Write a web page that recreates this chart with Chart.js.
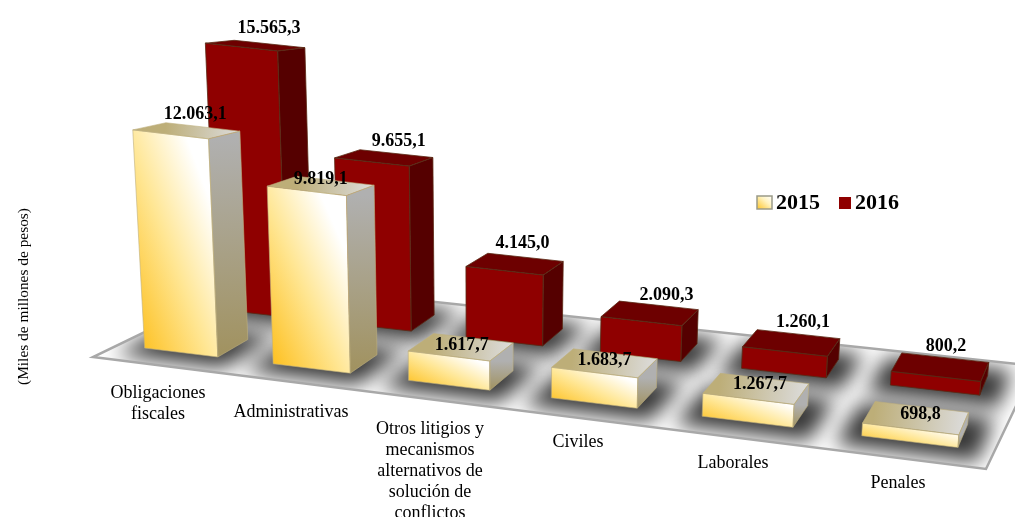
<!DOCTYPE html>
<html lang="es">
<head>
<meta charset="utf-8">
<title>Litigios 2015-2016</title>
<script src="https://cdn.jsdelivr.net/npm/chart.js@4"></script>
<style>
    html, body { margin: 0; padding: 0; background: #fff; }
    canvas { display: block; }
</style>
</head>
<body>
<canvas id="chart" width="1015" height="517"></canvas>
<script>
// Data
const categories = [
    ['Obligaciones', 'fiscales'],
    ['Administrativas'],
    ['Otros litigios y', 'mecanismos', 'alternativos de', 'solución de', 'conflictos'],
    ['Civiles'],
    ['Laborales'],
    ['Penales']
];
const values2015 = [12063.1, 9819.1, 1617.7, 1683.7, 1267.7, 698.8];
const values2016 = [15565.3, 9655.1, 4145.0, 2090.3, 1260.1, 800.2];

// Floor corners in screen pixels: front left, front right, back right, back left
const floorA = [93, 357], floorB = [986, 469], floorC = [1035, 366], floorD = [248, 282];

// Where the text sits, the original was placed by hand
const catPos = [[158, 393], [291, 412], [430, 429], [578, 442], [733, 463], [898, 483]];
const labelShift = [
    [[9, -16], [0, -6], [1, -2], [0, -3], [4, -4], [5, -3]],
    [[14, -17], [15, -16], [8, -21], [17, -18], [12, -20], [6, -21]]
];

const SERIF = '"Liberation Serif", "Times New Roman", serif';

// Homography of the unit square onto the floor
const dx1 = floorB[0] - floorC[0], dx2 = floorD[0] - floorC[0];
const dx3 = floorA[0] - floorB[0] + floorC[0] - floorD[0];
const dy1 = floorB[1] - floorC[1], dy2 = floorD[1] - floorC[1];
const dy3 = floorA[1] - floorB[1] + floorC[1] - floorD[1];
const den = dx1 * dy2 - dx2 * dy1;
const hg = (dx3 * dy2 - dx2 * dy3) / den;
const hh = (dx1 * dy3 - dx3 * dy1) / den;
const ha = floorB[0] - floorA[0] + hg * floorB[0];
const hb = floorD[0] - floorA[0] + hh * floorD[0];
const hd = floorB[1] - floorA[1] + hg * floorB[1];
const he = floorD[1] - floorA[1] + hh * floorD[1];

function floorPoint(u, v) {
    const w = hg * u + hh * v + 1;
    return [(ha * u + hb * v + floorA[0]) / w, (hd * u + he * v + floorA[1]) / w];
}

// Footprint corner of a bar, slightly sheared towards the back
function basePoint(u, v) {
    const p = floorPoint(u, v);
    return [p[0] - 12 * (v - 0.145), p[1]];
}

// Lift a base point by a height, verticals lean towards a vanishing point below
function lift(p, h) {
    return [p[0] + (p[0] - 484) * h * 0.00016, p[1] - h];
}

function polygon(ctx, pts) {
    ctx.beginPath();
    pts.forEach((p, i) => i ? ctx.lineTo(p[0], p[1]) : ctx.moveTo(p[0], p[1]));
    ctx.closePath();
}

// Gradient corner to corner of the bounding box, like an Office fill
function fillDiagonal(ctx, pts, stops) {
    const xs = pts.map(p => p[0]), ys = pts.map(p => p[1]);
    const minX = Math.min(...xs), minY = Math.min(...ys);
    ctx.save();
    polygon(ctx, pts);
    ctx.clip();
    ctx.translate(minX, minY);
    ctx.scale(Math.max(...xs) - minX, Math.max(...ys) - minY);
    const g = ctx.createLinearGradient(0, 1, 1, 0);
    stops.forEach(s => g.addColorStop(s[0], s[1]));
    ctx.fillStyle = g;
    ctx.fillRect(0, 0, 1, 1);
    ctx.restore();
}

function fillAlong(ctx, pts, from, to, stops) {
    const g = ctx.createLinearGradient(from[0], from[1], to[0], to[1]);
    stops.forEach(s => g.addColorStop(s[0], s[1]));
    polygon(ctx, pts);
    ctx.fillStyle = g;
    ctx.fill();
}

// Corners of one bar, everything comes from the bar element of Chart.js
function barBox(chart, datasetIndex, el) {
    const area = chart.chartArea;
    const uc = (el.x - area.left) / area.width;
    const du = el.width / area.width / 2;
    const row = (datasetIndex + 0.5) / 2;
    const rowScale = datasetIndex === 0 ? 1 : 0.945;
    const h = (el.base - el.y) * rowScale;
    const fl = basePoint(uc - du, row - 0.105);
    const fr = basePoint(uc + du, row - 0.105);
    const br = basePoint(uc + du, row + 0.105);
    const bl = basePoint(uc - du, row + 0.105);
    return {
        fl, fr, br, bl,
        uc, du, row,
        tfl: lift(fl, h), tfr: lift(fr, h),
        tbr: lift(br, h * 0.955), tbl: lift(bl, h * 0.955)
    };
}

function drawBar(ctx, b, datasetIndex) {
    const front = [b.fl, b.fr, b.tfr, b.tfl];
    const side = [b.fr, b.br, b.tbr, b.tfr];
    const top = [b.tfl, b.tfr, b.tbr, b.tbl];
    if (datasetIndex === 0) {
        fillDiagonal(ctx, front, [[0, '#fdbb10'], [0.45, '#ffe693'], [0.8, '#ffffff'], [1, '#ffffff']]);
        fillAlong(ctx, side, b.tfr, b.fr, [[0, '#b0b0b0'], [1, '#a1925f']]);
        fillAlong(ctx, top, b.tbl, b.tbr, [[0, '#bdae78'], [1, '#dcdcdc']]);
        ctx.strokeStyle = 'rgba(190, 175, 125, 0.6)';
    } else {
        polygon(ctx, front);
        ctx.fillStyle = '#8f0000';
        ctx.fill();
        polygon(ctx, side);
        ctx.fillStyle = '#550000';
        ctx.fill();
        polygon(ctx, top);
        ctx.fillStyle = '#6d0000';
        ctx.fill();
        ctx.strokeStyle = 'rgba(90, 40, 20, 0.8)';
    }
    ctx.lineWidth = 1;
    [front, side, top].forEach(face => {
        polygon(ctx, face);
        ctx.stroke();
    });
}

function formatValue(v) {
    return v.toFixed(1).replace('.', ',').replace(/\B(?=(\d{3})+(?!\d))/g, '.');
}

const perspectiveBars = {
    id: 'perspectiveBars',
    beforeDatasetsDraw(chart) {
        const ctx = chart.ctx;
        const floor = [floorPoint(0, 0), floorPoint(1, 0), floorPoint(1, 1), floorPoint(0, 1)];

        ctx.save();
        polygon(ctx, floor);
        ctx.fillStyle = '#ffffff';
        ctx.fill();

        // Soft shadows under the bars, kept on the floor
        ctx.save();
        polygon(ctx, floor);
        ctx.clip();
        ctx.filter = 'blur(10px)';
        ctx.fillStyle = 'rgba(0, 0, 0, 0.78)';
        [1, 0].forEach(d => {
            chart.getDatasetMeta(d).data.forEach(el => {
                const b = barBox(chart, d, el);
                const du = b.du + 0.022, dv = 0.105 + 0.09;
                polygon(ctx, [
                    basePoint(b.uc - du, b.row - dv),
                    basePoint(b.uc + du, b.row - dv),
                    basePoint(b.uc + du, b.row + dv),
                    basePoint(b.uc - du, b.row + dv)
                ].map(p => [p[0] + 1, p[1] + 1]));
                ctx.fill();
            });
        });
        ctx.restore();

        polygon(ctx, floor);
        ctx.strokeStyle = '#a8a8a8';
        ctx.lineWidth = 2.5;
        ctx.stroke();

        // 2016 is the back row
        [1, 0].forEach(d => {
            chart.getDatasetMeta(d).data.forEach(el => drawBar(ctx, barBox(chart, d, el), d));
        });
        ctx.restore();
    },
    afterDatasetsDraw(chart) {
        const ctx = chart.ctx;
        ctx.save();
        ctx.fillStyle = '#000';
        ctx.textAlign = 'center';
        ctx.textBaseline = 'middle';

        // Value labels
        ctx.font = 'bold 18px ' + SERIF;
        [1, 0].forEach(d => {
            chart.getDatasetMeta(d).data.forEach((el, i) => {
                const b = barBox(chart, d, el);
                const x = (b.tfl[0] + b.tbr[0]) / 2 + labelShift[d][i][0];
                const y = (b.tfl[1] + b.tbr[1]) / 2 + labelShift[d][i][1];
                ctx.fillText(formatValue(chart.data.datasets[d].data[i]), x, y);
            });
        });

        // Category names, they follow the front edge of the floor
        ctx.font = '18px ' + SERIF;
        chart.data.labels.forEach((lines, i) => {
            lines.forEach((line, n) => ctx.fillText(line, catPos[i][0], catPos[i][1] + n * 21));
        });

        // Legend
        ctx.textAlign = 'left';
        ctx.font = 'bold 22px ' + SERIF;
        fillDiagonal(ctx, [[757, 196], [772, 196], [772, 209], [757, 209]], [[0, '#fdc52a'], [0.6, '#fff3c0'], [1, '#ffffff']]);
        ctx.strokeStyle = '#9a9a88';
        ctx.lineWidth = 1.5;
        ctx.strokeRect(757, 196, 15, 13);
        ctx.fillText(chart.data.datasets[0].label, 776, 203);
        ctx.fillStyle = '#8f0000';
        ctx.fillRect(839, 197, 12, 12);
        ctx.fillStyle = '#000';
        ctx.fillText(chart.data.datasets[1].label, 855, 203);
        ctx.restore();
    }
};

new Chart(document.getElementById('chart'), {
    type: 'bar',
    data: {
        labels: categories,
        datasets: [
            { label: '2015', data: values2015, backgroundColor: 'transparent' },
            { label: '2016', data: values2016, backgroundColor: 'transparent' }
        ]
    },
    options: {
        responsive: false,
        animation: false,
        grouped: false,
        barPercentage: 0.72,
        categoryPercentage: 0.8,
        layout: { padding: { top: 84, left: 11, right: 0, bottom: 0 } },
        plugins: { legend: { display: false }, tooltip: { enabled: false } },
        scales: {
            x: {
                display: true,
                ticks: { display: false },
                grid: { display: false },
                border: { display: false }
            },
            y: {
                min: 0,
                max: 23500,
                ticks: { display: false },
                grid: { display: false },
                border: { display: false },
                title: {
                    display: true,
                    text: '(Miles de millones de pesos)',
                    color: '#000',
                    font: { family: SERIF, size: 15.4 }
                }
            }
        }
    },
    plugins: [perspectiveBars]
});
</script>
</body>
</html>
